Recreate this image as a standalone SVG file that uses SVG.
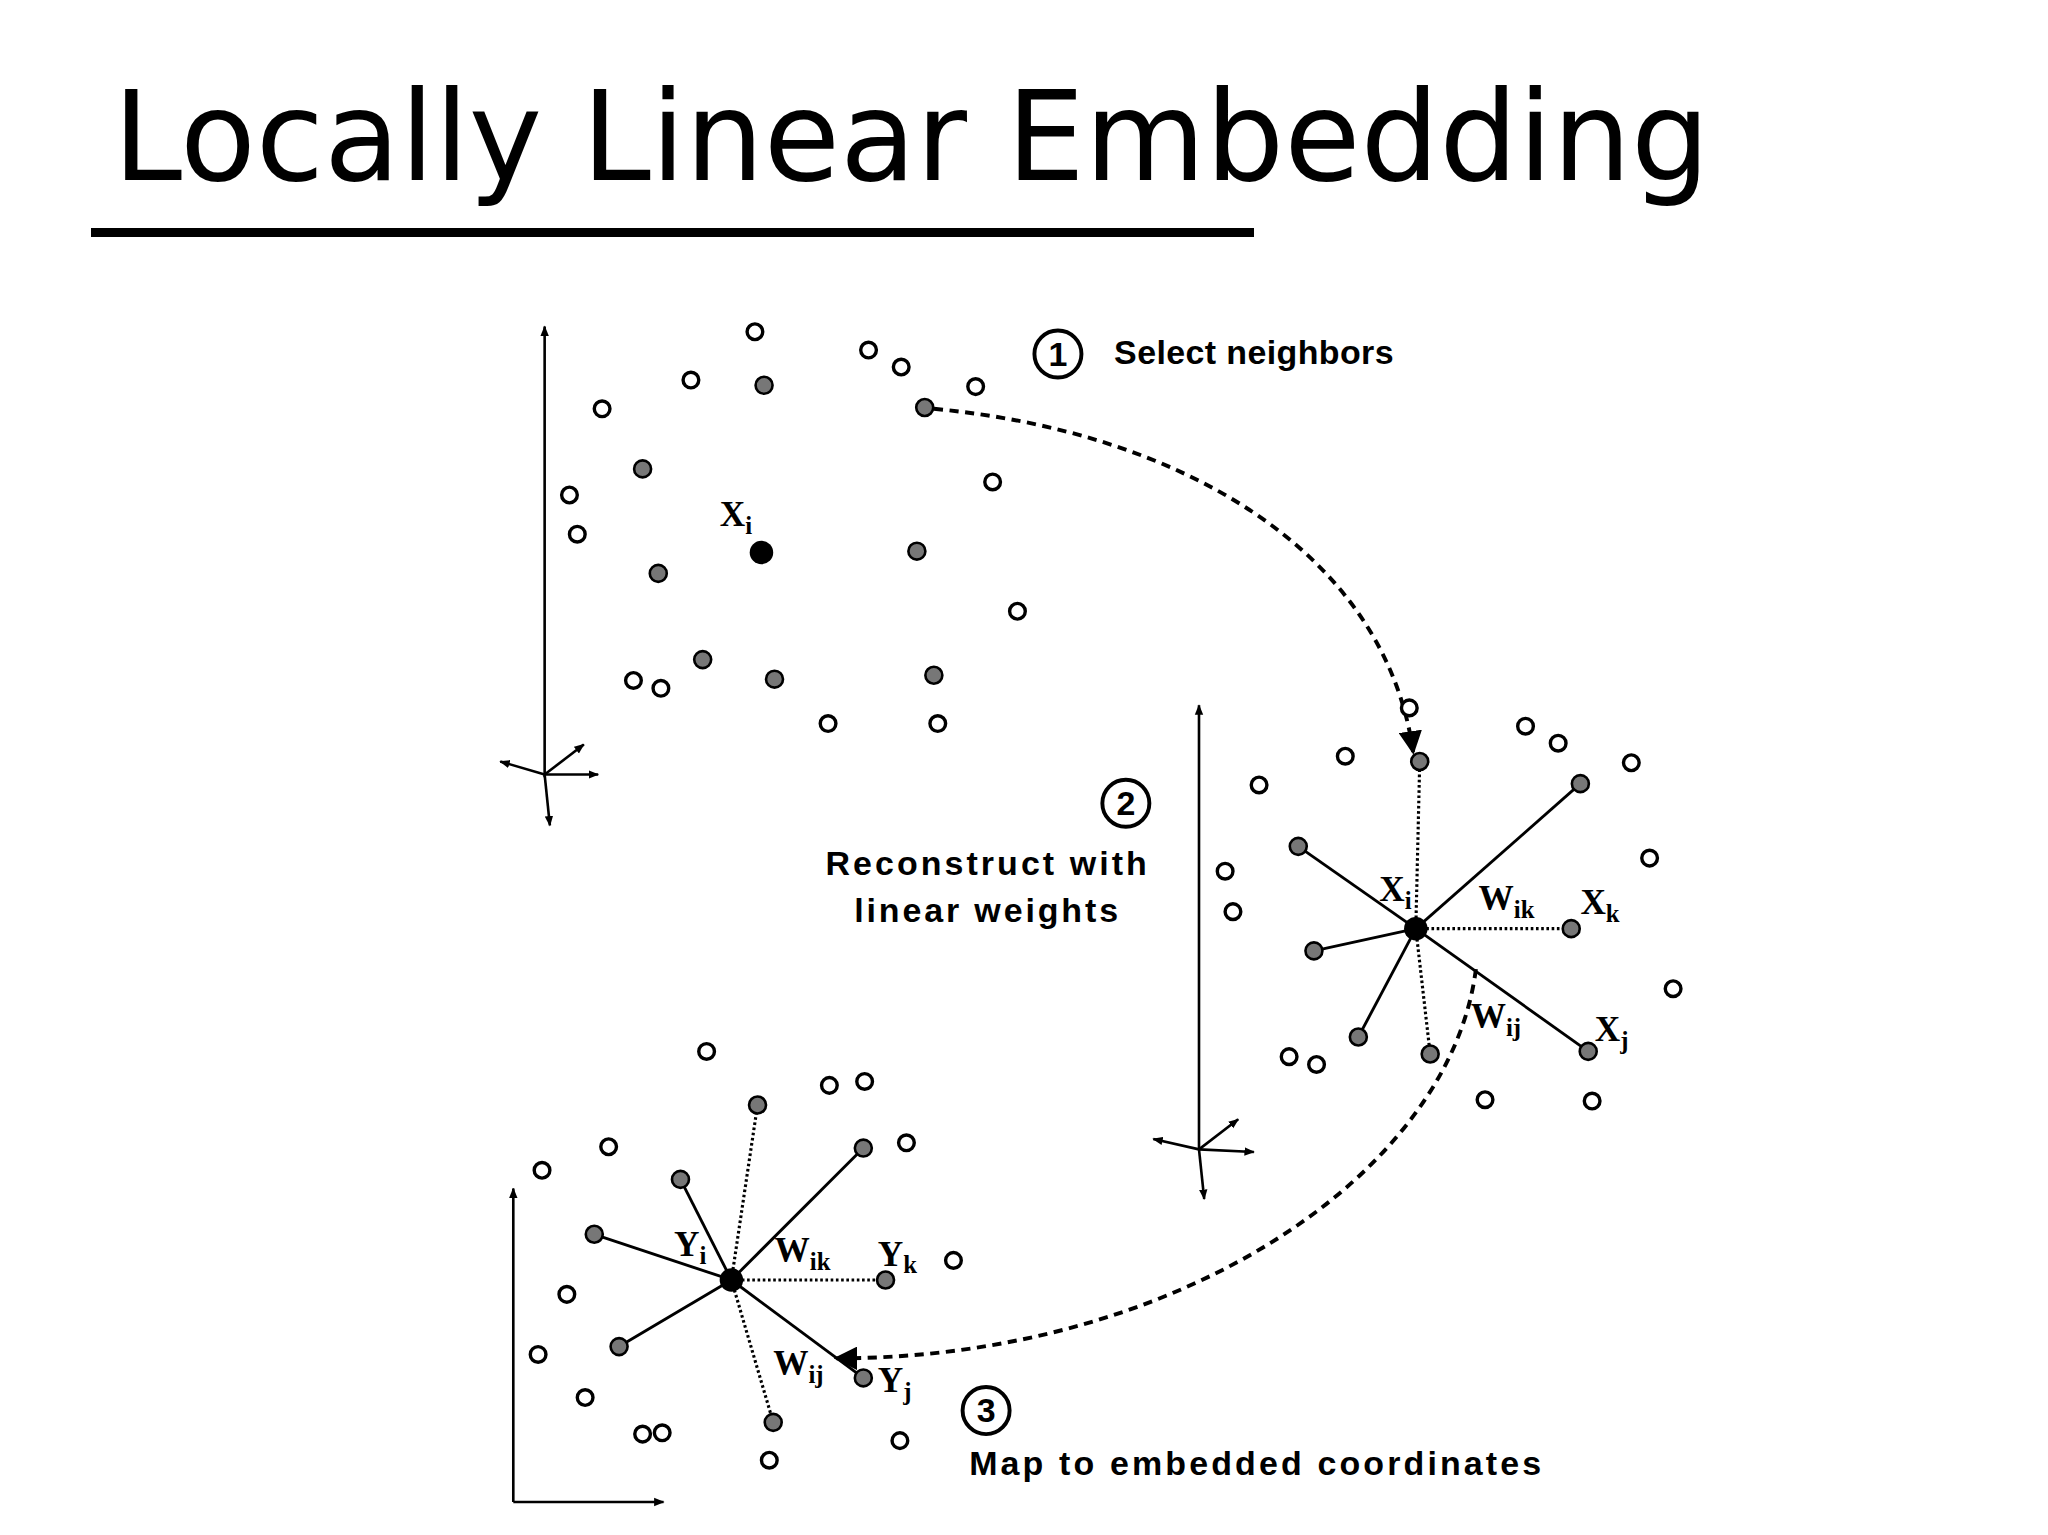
<svg xmlns="http://www.w3.org/2000/svg" width="2048" height="1535" viewBox="0 0 2048 1535">
<style>
.o{fill:#fff;stroke:#000;stroke-width:2.6}
.g{fill:#777;stroke:#000;stroke-width:2}
.c{fill:#000}
.ax{stroke:#000;stroke-width:2;fill:none}
.sl{stroke:#000;stroke-width:2.2}
.dl{stroke:#000;stroke-width:2.4;stroke-dasharray:2 2}
.dc{stroke:#000;stroke-width:3;stroke-dasharray:7 5;fill:none}
.lb{font-family:"Liberation Serif",serif;font-size:27px;font-weight:bold}
.sb{font-size:19px}
.hd{font-family:"Liberation Sans",Arial,sans-serif;font-weight:bold;font-size:26px}
.nc{fill:#fff;stroke:#000;stroke-width:3}
.nt{font-family:"Liberation Sans",Arial,sans-serif;font-weight:bold;font-size:26px;text-anchor:middle}
</style>
<defs>
<marker id="a" viewBox="0 0 10 10" refX="9" refY="5" markerWidth="8" markerHeight="8" orient="auto" markerUnits="userSpaceOnUse"><path d="M0,1 L10,5 L0,9 Z"/></marker>
<marker id="b" viewBox="0 0 10 10" refX="9" refY="5" markerWidth="18" markerHeight="18" orient="auto" markerUnits="userSpaceOnUse"><path d="M0,0 L10,5 L0,10 Z"/></marker>
</defs>
<g id="title">
<text x="113" y="180" font-family="DejaVu Sans,sans-serif" font-size="124">Locally Linear Embedding</text>
<rect x="91" y="228" width="1163" height="9"/>
</g>
<g transform="scale(1.3061)">
<g id="axes">
<line class="ax" x1="417" y1="595" x2="417" y2="250" marker-end="url(#a)"/>
<line class="ax" x1="417" y1="593" x2="458" y2="593" marker-end="url(#a)"/>
<line class="ax" x1="417" y1="593" x2="383" y2="583" marker-end="url(#a)"/>
<line class="ax" x1="417" y1="593" x2="447" y2="570" marker-end="url(#a)"/>
<line class="ax" x1="417" y1="593" x2="421" y2="632" marker-end="url(#a)"/>
<line class="ax" x1="918" y1="880" x2="918" y2="540" marker-end="url(#a)"/>
<line class="ax" x1="918" y1="880" x2="960" y2="882" marker-end="url(#a)"/>
<line class="ax" x1="918" y1="880" x2="883" y2="872" marker-end="url(#a)"/>
<line class="ax" x1="918" y1="880" x2="948" y2="857" marker-end="url(#a)"/>
<line class="ax" x1="918" y1="880" x2="922" y2="918" marker-end="url(#a)"/>
<line class="ax" x1="393" y1="1150" x2="393" y2="910" marker-end="url(#a)"/>
<line class="ax" x1="393" y1="1150" x2="508" y2="1150" marker-end="url(#a)"/>
</g>
<g id="connectors">
<path class="dc" d="M715,313 C900,330 1060,420 1082,576" marker-end="url(#b)"/>
<path class="dc" d="M1130,742 C1110,900 900,1040 640,1040" marker-end="url(#b)"/>
<line class="sl" x1="1084" y1="711" x2="1210" y2="600"/>
<line class="sl" x1="1084" y1="711" x2="994" y2="648"/>
<line class="sl" x1="1084" y1="711" x2="1006" y2="728"/>
<line class="sl" x1="1084" y1="711" x2="1040" y2="794"/>
<line class="sl" x1="1084" y1="711" x2="1216" y2="805"/>
<line class="dl" x1="1084" y1="711" x2="1203" y2="711"/>
<line class="dl" x1="1084" y1="711" x2="1087" y2="583"/>
<line class="dl" x1="1084" y1="711" x2="1095" y2="807"/>
<line class="sl" x1="560" y1="980" x2="661" y2="879"/>
<line class="sl" x1="560" y1="980" x2="521" y2="903"/>
<line class="sl" x1="560" y1="980" x2="455" y2="945"/>
<line class="sl" x1="560" y1="980" x2="474" y2="1031"/>
<line class="sl" x1="560" y1="980" x2="661" y2="1055"/>
<line class="dl" x1="560" y1="980" x2="580" y2="846"/>
<line class="dl" x1="560" y1="980" x2="678" y2="980"/>
<line class="dl" x1="560" y1="980" x2="592" y2="1089"/>
</g>
<g id="panel1">
<circle class="o" cx="578" cy="254" r="6"/><circle class="o" cx="529" cy="291" r="6"/><circle class="o" cx="665" cy="268" r="6"/><circle class="o" cx="690" cy="281" r="6"/><circle class="o" cx="747" cy="296" r="6"/><circle class="o" cx="461" cy="313" r="6"/><circle class="o" cx="760" cy="369" r="6"/><circle class="o" cx="436" cy="379" r="6"/><circle class="o" cx="442" cy="409" r="6"/><circle class="o" cx="779" cy="468" r="6"/><circle class="o" cx="485" cy="521" r="6"/><circle class="o" cx="506" cy="527" r="6"/><circle class="o" cx="634" cy="554" r="6"/><circle class="o" cx="718" cy="554" r="6"/>
<circle class="g" cx="585" cy="295" r="6.5"/><circle class="g" cx="708" cy="312" r="6.5"/><circle class="g" cx="492" cy="359" r="6.5"/><circle class="g" cx="504" cy="439" r="6.5"/><circle class="g" cx="702" cy="422" r="6.5"/><circle class="g" cx="538" cy="505" r="6.5"/><circle class="g" cx="593" cy="520" r="6.5"/><circle class="g" cx="715" cy="517" r="6.5"/>
<circle class="c" cx="583" cy="423" r="9"/>
<text class="lb" x="551" y="403">X<tspan class="sb" dy="6">i</tspan></text>
<circle class="nc" cx="810" cy="271" r="18"/><text class="nt" x="810" y="280">1</text>
<text class="hd" x="853" y="279" textLength="214" lengthAdjust="spacing">Select neighbors</text>
</g>
<g id="panel2">
<circle class="o" cx="1079" cy="542" r="6"/><circle class="o" cx="1030" cy="579" r="6"/><circle class="o" cx="1168" cy="556" r="6"/><circle class="o" cx="1193" cy="569" r="6"/><circle class="o" cx="1249" cy="584" r="6"/><circle class="o" cx="964" cy="601" r="6"/><circle class="o" cx="1263" cy="657" r="6"/><circle class="o" cx="938" cy="667" r="6"/><circle class="o" cx="944" cy="698" r="6"/><circle class="o" cx="1281" cy="757" r="6"/><circle class="o" cx="987" cy="809" r="6"/><circle class="o" cx="1008" cy="815" r="6"/><circle class="o" cx="1137" cy="842" r="6"/><circle class="o" cx="1219" cy="843" r="6"/>
<circle class="g" cx="1087" cy="583" r="6.5"/><circle class="g" cx="1210" cy="600" r="6.5"/><circle class="g" cx="994" cy="648" r="6.5"/><circle class="g" cx="1203" cy="711" r="6.5"/><circle class="g" cx="1006" cy="728" r="6.5"/><circle class="g" cx="1040" cy="794" r="6.5"/><circle class="g" cx="1095" cy="807" r="6.5"/><circle class="g" cx="1216" cy="805" r="6.5"/>
<circle class="c" cx="1084" cy="711" r="9"/>
<text class="lb" x="1056" y="690">X<tspan class="sb" dy="6">i</tspan></text>
<text class="lb" x="1132" y="697">W<tspan class="sb" dy="6">ik</tspan></text>
<text class="lb" x="1210" y="700">X<tspan class="sb" dy="6">k</tspan></text>
<text class="lb" x="1126" y="787">W<tspan class="sb" dy="6">ij</tspan></text>
<text class="lb" x="1221" y="797">X<tspan class="sb" dy="6">j</tspan></text>
<circle class="nc" cx="862" cy="615" r="18"/><text class="nt" x="862" y="624">2</text>
<text class="hd" x="632" y="670" textLength="246" lengthAdjust="spacing">Reconstruct with</text>
<text class="hd" x="654" y="706" textLength="202" lengthAdjust="spacing">linear weights</text>
</g>
<g id="panel3">
<circle class="o" cx="541" cy="805" r="6"/><circle class="o" cx="635" cy="831" r="6"/><circle class="o" cx="662" cy="828" r="6"/><circle class="o" cx="415" cy="896" r="6"/><circle class="o" cx="466" cy="878" r="6"/><circle class="o" cx="694" cy="875" r="6"/><circle class="o" cx="730" cy="965" r="6"/><circle class="o" cx="434" cy="991" r="6"/><circle class="o" cx="412" cy="1037" r="6"/><circle class="o" cx="448" cy="1070" r="6"/><circle class="o" cx="492" cy="1098" r="6"/><circle class="o" cx="507" cy="1097" r="6"/><circle class="o" cx="689" cy="1103" r="6"/><circle class="o" cx="589" cy="1118" r="6"/>
<circle class="g" cx="580" cy="846" r="6.5"/><circle class="g" cx="661" cy="879" r="6.5"/><circle class="g" cx="521" cy="903" r="6.5"/><circle class="g" cx="455" cy="945" r="6.5"/><circle class="g" cx="678" cy="980" r="6.5"/><circle class="g" cx="474" cy="1031" r="6.5"/><circle class="g" cx="661" cy="1055" r="6.5"/><circle class="g" cx="592" cy="1089" r="6.5"/>
<circle class="c" cx="560" cy="980" r="9"/>
<text class="lb" x="516" y="962">Y<tspan class="sb" dy="6">i</tspan></text>
<text class="lb" x="593" y="966">W<tspan class="sb" dy="6">ik</tspan></text>
<text class="lb" x="672" y="969">Y<tspan class="sb" dy="6">k</tspan></text>
<text class="lb" x="592" y="1053">W<tspan class="sb" dy="6">ij</tspan></text>
<text class="lb" x="672" y="1066">Y<tspan class="sb" dy="6">j</tspan></text>
<circle class="nc" cx="755" cy="1080" r="18"/><text class="nt" x="755" y="1089">3</text>
<text class="hd" x="742" y="1129" textLength="438" lengthAdjust="spacing">Map to embedded coordinates</text>
</g>
</g>
</svg>
